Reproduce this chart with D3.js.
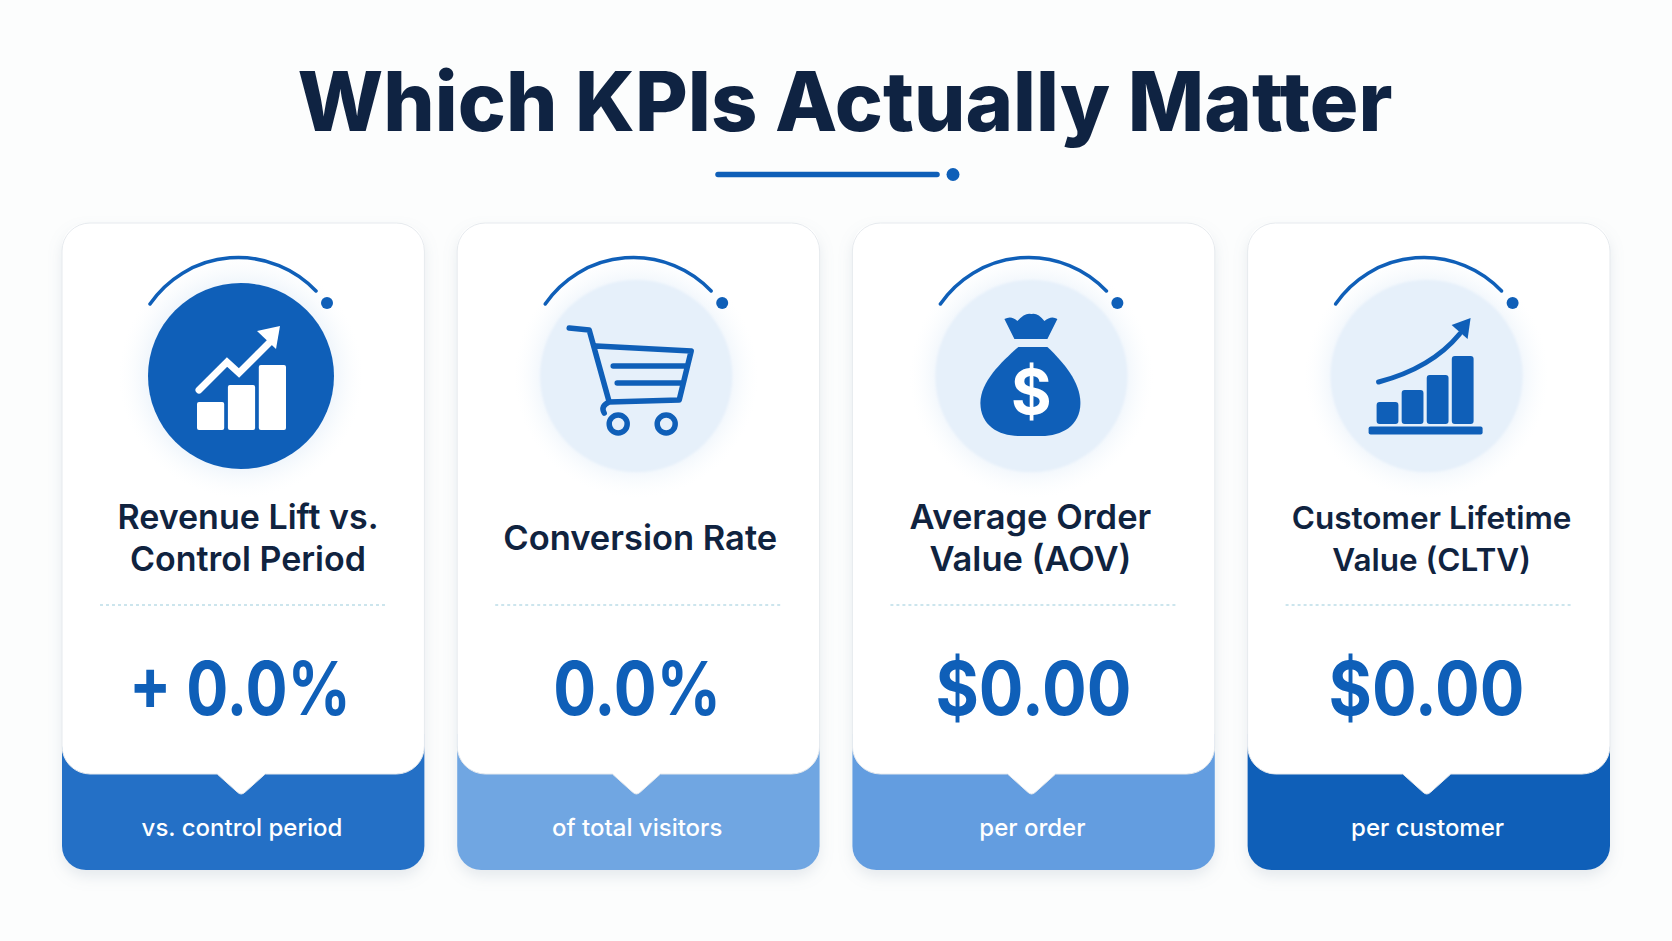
<!DOCTYPE html>
<html>
<head>
<meta charset="utf-8">
<script src="https://cdn.jsdelivr.net/npm/d3@7"></script>
<style>
  html, body { margin: 0; padding: 0; background: #fcfdfd; }
  svg { display: block; }
  text { font-family: Inter, "Noto Sans", sans-serif; text-anchor: middle; }
</style>
</head>
<body>
<script>
const chartTitle = 'Which KPIs Actually Matter';
const kpiIds = ['revenue', 'conversion', 'aov', 'cltv'];
const kpiTitles = [
  ['Revenue Lift vs.', 'Control Period'],
  ['Conversion Rate'],
  ['Average Order', 'Value (AOV)'],
  ['Customer Lifetime', 'Value (CLTV)']
];
const kpiValues = ['+ 0.0%', '0.0%', '$0.00', '$0.00'];
const kpiCaptions = ['vs. control period', 'of total visitors', 'per order', 'per customer'];
const bandColors = ['#2470c6', '#70a6e2', '#639de0', '#0f5fb8'];

// bar heights of the two little bar icons
const liftBars = [28, 45, 65];
const cltvBars = [22, 34, 49, 68];

// per card text fitting
const titleSizes = [34, 34.5, 34.5, 31.5];
const titleCentres = [186, 183, 178, 184];
const valueWidths = [222, 168, 196, 196];
const valueCentres = [178, 180, 181, 179];

const blue = '#0f5fb8';
const width = 1672, height = 941;

const svg = d3.select('body').append('svg')
  .attr('width', width)
  .attr('height', height);

const defs = svg.append('defs');

const shadow = defs.append('filter').attr('id', 'shadow')
  .attr('x', '-10%').attr('y', '-10%').attr('width', '120%').attr('height', '120%');
shadow.append('feDropShadow')
  .attr('dx', 0).attr('dy', 7).attr('stdDeviation', 7)
  .attr('flood-color', '#8a9bb0').attr('flood-opacity', 0.2);

const halo = defs.append('radialGradient').attr('id', 'halo');
halo.append('stop').attr('offset', '60%').attr('stop-color', '#e9f1fa');
halo.append('stop').attr('offset', '78%').attr('stop-color', '#f2f7fc');
halo.append('stop').attr('offset', '100%').attr('stop-color', '#fbfdfe').attr('stop-opacity', 0);

const soften = defs.append('filter').attr('id', 'soften');
soften.append('feGaussianBlur').attr('stdDeviation', 1.2);

// title + underline
svg.append('text')
  .attr('x', 845).attr('y', 131)
  .attr('font-size', 82).attr('font-weight', 800)
  .attr('fill', '#0f2342')
  .attr('textLength', 1095).attr('lengthAdjust', 'spacingAndGlyphs')
  .text(chartTitle);

svg.append('line')
  .attr('x1', 718).attr('x2', 937).attr('y1', 174.5).attr('y2', 174.5)
  .attr('stroke', blue).attr('stroke-width', 5.5).attr('stroke-linecap', 'round');
svg.append('circle').attr('cx', 953).attr('cy', 174.5).attr('r', 6.5).attr('fill', blue);

const cardX = d3.scaleBand()
  .domain(kpiIds)
  .range([62, 1610])
  .paddingInner(0.083)
  .paddingOuter(0);

const cardW = cardX.bandwidth();
const cardTop = 223, cardBottom = 870, whiteBottom = 774;
const whiteH = whiteBottom - cardTop, cardH = cardBottom - cardTop;

// white part of a card, with the little notch pointing down into the band
const whitePath = () => {
  const r = 28, mid = cardW / 2 - 2, h = whiteH;
  return `M0,${r} A${r},${r} 0 0 1 ${r},0 H${cardW - r} A${r},${r} 0 0 1 ${cardW},${r}
    V${h - r} A${r},${r} 0 0 1 ${cardW - r},${h}
    H${mid + 24} L${mid + 4},${h + 18} Q${mid},${h + 22} ${mid - 4},${h + 18}
    L${mid - 24},${h} H${r} A${r},${r} 0 0 1 0,${h - r} Z`;
};

// coloured band, tucked under the white part
const bandPath = () => {
  const r = 24, y0 = whiteH - 40;
  return `M0,${y0} H${cardW} V${cardH - r} A${r},${r} 0 0 1 ${cardW - r},${cardH}
    H${r} A${r},${r} 0 0 1 0,${cardH - r} Z`;
};

const cards = svg.selectAll('g.card')
  .data(kpiIds)
  .join('g')
  .attr('class', 'card')
  .attr('transform', d => `translate(${cardX(d)},${cardTop})`);

cards.append('rect')
  .attr('width', cardW).attr('height', cardH)
  .attr('rx', 25)
  .attr('fill', '#fff')
  .attr('filter', 'url(#shadow)');

cards.append('path')
  .attr('d', bandPath())
  .attr('fill', (d, i) => bandColors[i]);

cards.append('path')
  .attr('d', whitePath())
  .attr('fill', '#ffffff')
  .attr('stroke', '#e6eaee')
  .attr('stroke-width', 1);

// icon group, origin at circle centre
const icons = cards.append('g')
  .attr('class', 'icon')
  .attr('transform', `translate(179,${376 - cardTop})`);

icons.append('circle').attr('r', 122).attr('fill', 'url(#halo)');
icons.append('circle')
  .attr('r', (d, i) => i === 0 ? 93 : 96)
  .attr('fill', (d, i) => i === 0 ? blue : '#e6f0fa')
  .attr('filter', (d, i) => i === 0 ? null : 'url(#soften)');

icons.append('path')
  .attr('d', 'M-91,-72 A107,107 0 0 1 75,-85')
  .attr('fill', 'none')
  .attr('stroke', blue).attr('stroke-width', 3.5).attr('stroke-linecap', 'round');
icons.append('circle').attr('cx', 86).attr('cy', -73).attr('r', 6).attr('fill', blue);

// revenue icon
const lift = icons.filter((d, i) => i === 0);
const liftX = d3.scaleBand().domain(d3.range(liftBars.length)).range([-44, 45]).paddingInner(0.12);
const liftY = d3.scaleLinear().domain([0, 65]).range([54, -11]);
lift.selectAll('rect')
  .data(liftBars)
  .join('rect')
  .attr('x', (d, i) => liftX(i))
  .attr('y', d => liftY(d))
  .attr('width', liftX.bandwidth())
  .attr('height', d => liftY(0) - liftY(d))
  .attr('rx', 2)
  .attr('fill', '#fff');
lift.append('path')
  .attr('d', 'M-42,14 L-14,-14 L-2,-3 L29,-34')
  .attr('fill', 'none').attr('stroke', '#fff').attr('stroke-width', 7).attr('stroke-linecap', 'round');
lift.append('path').attr('d', 'M16,-45 L39,-50 L35,-27 Z').attr('fill', '#fff');

// cart icon
const cart = icons.filter((d, i) => i === 1);
cart.append('path')
  .attr('d', `M-67,-48 L-47,-46 L-27,26 L43,24 L55,-25 L-40,-30 M-23,-10 H50 M-19,7 H45 M-27,26 Q-36,30 -32,37`)
  .attr('fill', 'none').attr('stroke', blue).attr('stroke-width', 5.5)
  .attr('stroke-linecap', 'round').attr('stroke-linejoin', 'round');
cart.selectAll('circle.wheel')
  .data([-18, 30])
  .join('circle')
  .attr('class', 'wheel')
  .attr('cx', d => d).attr('cy', 48).attr('r', 9)
  .attr('fill', 'none').attr('stroke', blue).attr('stroke-width', 5.5);

// money bag icon
const bag = icons.filter((d, i) => i === 2);
bag.append('path')
  .attr('d', `M-27,-57 Q-20,-61 -14,-55 Q-6,-64 0,-62 Q6,-64 13,-55 Q20,-61 26,-57 L16,-37 H-17 Z`)
  .attr('fill', blue);
bag.append('path')
  .attr('d', `M-13,-29 H16 C32,-14 49,6 49,27 C49,50 30,60 10,60 H-12 C-32,60 -51,50 -51,27 C-51,6 -30,-14 -13,-29 Z`)
  .attr('fill', blue);
bag.append('text')
  .attr('x', 0).attr('y', 38)
  .attr('font-size', 62).attr('font-weight', 700)
  .attr('fill', '#fff')
  .text('$');

// customer value icon
const cltv = icons.filter((d, i) => i === 3);
const cltvX = d3.scaleBand().domain(d3.range(cltvBars.length)).range([-50, 47]).paddingInner(0.13);
const cltvY = d3.scaleLinear().domain([0, 68]).range([48, -20]);
cltv.selectAll('rect.bar')
  .data(cltvBars)
  .join('rect')
  .attr('class', 'bar')
  .attr('x', (d, i) => cltvX(i))
  .attr('y', d => cltvY(d))
  .attr('width', cltvX.bandwidth())
  .attr('height', d => cltvY(0) - cltvY(d))
  .attr('rx', 3)
  .attr('fill', blue);
cltv.append('rect')
  .attr('x', -58).attr('y', 50.5).attr('width', 114).attr('height', 8).attr('rx', 2).attr('fill', blue);
cltv.append('path')
  .attr('d', 'M-48,6 Q5,-8 33,-42')
  .attr('fill', 'none').attr('stroke', blue).attr('stroke-width', 5).attr('stroke-linecap', 'round');
cltv.append('path').attr('d', 'M25,-51 L44,-58 L41,-37 Z').attr('fill', blue);

// card text
cards.each(function (d, i) {
  const g = d3.select(this);
  const lines = kpiTitles[i];
  const firstY = lines.length === 2 ? 529 : 550;
  g.selectAll('text.title')
    .data(lines)
    .join('text')
    .attr('class', 'title')
    .attr('x', titleCentres[i])
    .attr('y', (l, j) => firstY - cardTop + j * 42)
    .attr('font-size', titleSizes[i]).attr('font-weight', 600)
    .attr('fill', '#10233f')
    .text(l => l);
});

cards.append('line')
  .attr('x1', 38).attr('x2', 323)
  .attr('y1', 605 - cardTop).attr('y2', 605 - cardTop)
  .attr('stroke', '#bcdde8').attr('stroke-width', 1.5).attr('stroke-dasharray', '3 3');

cards.append('text')
  .attr('x', (d, i) => valueCentres[i]).attr('y', 715 - cardTop)
  .attr('font-size', 74).attr('font-weight', 700)
  .attr('fill', blue)
  .attr('textLength', (d, i) => valueWidths[i]).attr('lengthAdjust', 'spacingAndGlyphs')
  .text((d, i) => kpiValues[i]);

cards.append('text')
  .attr('x', 180).attr('y', 836 - cardTop)
  .attr('font-size', 24).attr('font-weight', 500)
  .attr('fill', '#ffffff')
  .text((d, i) => kpiCaptions[i]);
</script>
</body>
</html>
